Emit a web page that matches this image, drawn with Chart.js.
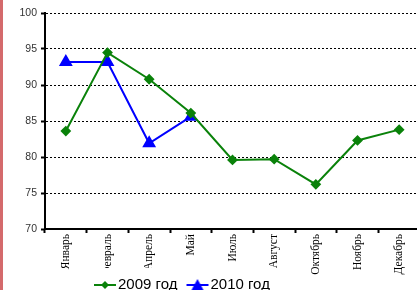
<!DOCTYPE html>
<html>
<head>
<meta charset="utf-8">
<script src="https://cdn.jsdelivr.net/npm/chart.js@4"></script>
<style>
html,body{margin:0;padding:0;background:#fff;overflow:hidden;width:417px;height:290px;}
#wrap{position:absolute;left:0;top:0;width:417px;height:290px;overflow:hidden;}
#bar{position:absolute;left:0;top:0;width:3px;height:290px;background:#d46a6c;z-index:2;}
</style>
</head>
<body>
<div id="bar"></div>
<div id="wrap"><canvas id="c" width="428" height="360"></canvas></div>
<script>
const categories = ['Январь','Февраль','Апрель','Май','Июль','Август','Октябрь','Ноябрь','Декабрь'];
const series2009 = [83.6, 94.5, 90.8, 86.1, 79.6, 79.7, 76.2, 82.3, 83.8];
const series2010 = [93.2, 93.2, 81.9, 85.6, null, null, null, null, null];
const seriesNames = ['2009 год', '2010 год'];
const yTicks = [70, 75, 80, 85, 90, 95, 100];

const GREEN = '#0a820a';
const BLUE = '#0000ff';

function legendIcon(color, kind) {
  const cv = document.createElement('canvas');
  cv.width = 24; cv.height = 14;
  const g = cv.getContext('2d');
  g.strokeStyle = color; g.lineWidth = 2;
  g.beginPath(); g.moveTo(1, 7); g.lineTo(23, 7); g.stroke();
  g.fillStyle = color;
  g.beginPath();
  if (kind === 'diamond') {
    g.moveTo(12, 3); g.lineTo(16, 7); g.lineTo(12, 11); g.lineTo(8, 7);
  } else {
    g.moveTo(12, 1); g.lineTo(18, 12); g.lineTo(6, 12);
  }
  g.closePath(); g.fill();
  return cv;
}
const icons = [legendIcon(GREEN, 'diamond'), legendIcon(BLUE, 'tri')];

const legendPlace = {
  id: 'legendPlace',
  afterLayout(chart) {
    const lg = chart.legend;
    const h = lg.bottom - lg.top;
    lg.left = 85;
    lg.right = 290;
    lg.top = 263;
    lg.bottom = lg.top + h;
  },
  afterDraw(chart) {
    const lg = chart.legend;
    const ctx = chart.ctx;
    ctx.save();
    ctx.fillStyle = '#fff';
    ctx.fillRect(lg.left + 3, 268, lg.right - lg.left - 3, 30);
    ctx.restore();
    lg.draw();
  }
};

new Chart(document.getElementById('c'), {
  type: 'line',
  data: {
    labels: categories,
    datasets: [
      {
        label: seriesNames[0], data: series2009,
        borderColor: GREEN, backgroundColor: GREEN, borderWidth: 2,
        pointStyle: 'rectRot', pointRadius: 4, pointHoverRadius: 4,
        tension: 0
      },
      {
        label: seriesNames[1], data: series2010,
        borderColor: BLUE, backgroundColor: BLUE, borderWidth: 2,
        pointStyle: 'triangle', pointRadius: 6, pointHoverRadius: 6,
        tension: 0, spanGaps: false
      }
    ]
  },
  options: {
    responsive: false,
    animation: false,
    layout: { padding: { top: 13, left: 0, right: 0, bottom: 0 } },
    plugins: {
      title: { display: false },
      tooltip: { enabled: false },
      legend: {
        display: true, position: 'bottom', align: 'start',
        labels: {
          usePointStyle: true, pointStyleWidth: 11, padding: 14.5,
          color: '#000',
          font: { family: 'Liberation Sans', size: 15 },
          generateLabels(chart) {
            const items = Chart.defaults.plugins.legend.labels.generateLabels(chart);
            items.forEach((it, i) => { it.pointStyle = icons[i]; });
            return items;
          }
        }
      }
    },
    scales: {
      x: {
        offset: true,
        border: { display: true, color: '#000', width: 2 },
        grid: { offset: true, drawOnChartArea: false, drawTicks: true, tickLength: 4, tickColor: '#000', tickWidth: 2 },
        ticks: {
          autoSkip: false, maxRotation: 90, minRotation: 90, padding: 1,
          color: '#000', font: { family: 'Liberation Serif', size: 11.5 }
        },
        afterFit(s) { s.height = 360 - 229 - s.chart.legend.height; }
      },
      y: {
        min: 70, max: 100,
        afterBuildTicks(s) { s.ticks = yTicks.map(v => ({ value: v })); },
        border: { display: true, color: '#000', width: 2, dash: [2, 2] },
        grid: {
          color: '#000', lineWidth: 1,
          drawTicks: true, tickLength: 4, tickColor: '#000', tickWidth: 2, tickBorderDash: []
        },
        ticks: { color: '#333', padding: 4, font: { family: 'Liberation Sans', size: 10.5 } },
        afterFit(s) { s.width = 45; }
      }
    }
  },
  plugins: [legendPlace]
});
</script>
</body>
</html>
